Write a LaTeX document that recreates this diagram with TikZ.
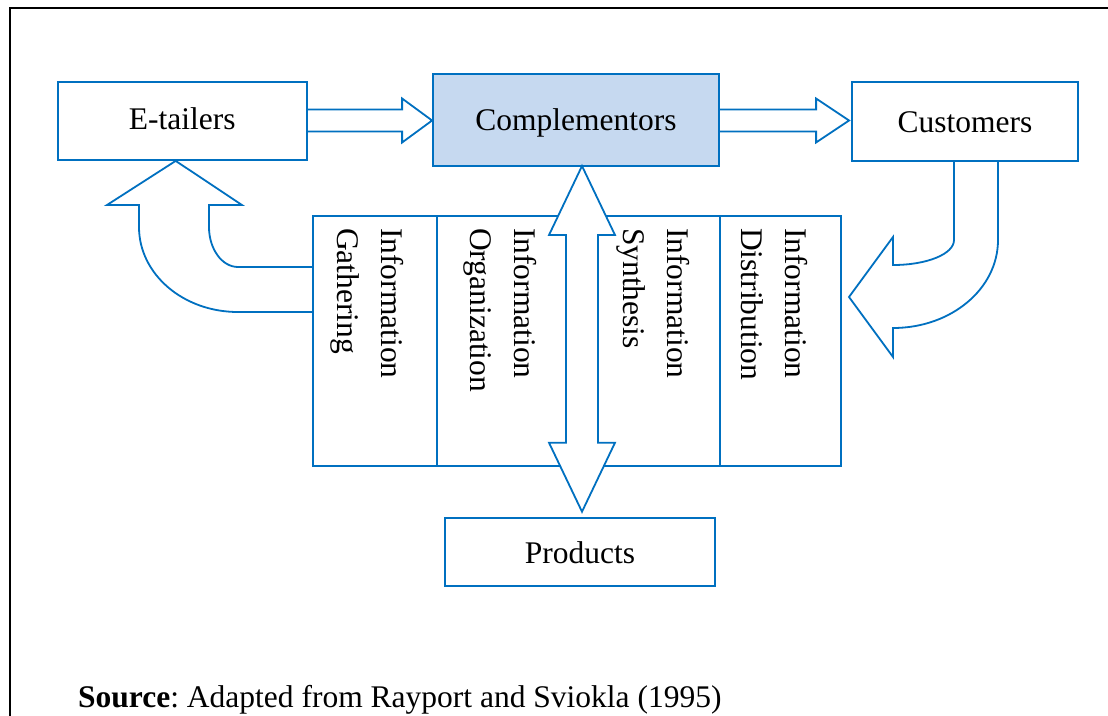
\documentclass[tikz,border=0pt]{standalone}
\usepackage{fontspec}
\setmainfont{Liberation Serif}
\usetikzlibrary{calc}
\frenchspacing
\definecolor{lineblue}{RGB}{0,112,192}
\definecolor{compfill}{RGB}{198,217,240}
\tikzset{
  txt/.style={font=\fontsize{31.5}{44}\selectfont},
  box/.style={draw=lineblue, line width=1.8pt, fill=white, inner sep=0pt},
  lbl/.style={txt, anchor=base, inner sep=0pt},
  blk/.style={draw=lineblue, line width=1.8pt, line join=miter},
  rot/.style={txt, rotate=-90, anchor=north west, align=left, inner sep=0pt},
}
\begin{document}
\begin{tikzpicture}[x=1pt, y=-1pt]
\useasboundingbox (0,0) rectangle (1108,715);
\fill[white] (0,0) rectangle (1108,715);
% frame
\draw[black, line width=2pt] (10,720) -- (10,8.3) -- (1115,8.3);

% boxes
\node[box, minimum width=249pt, minimum height=78pt] (etail) at (182.2,121) {};
\node[box, fill=compfill, minimum width=286pt, minimum height=92pt] (comp) at (576,120) {};
\node[box, minimum width=226pt, minimum height=79pt] (cust) at (965,121.7) {};
\node[box, minimum width=270pt, minimum height=68pt] (prod) at (580,551.8) {};
\node[box, minimum width=528pt, minimum height=250pt] (info) at (577,341) {};
\draw[blk] (437,216) -- (437,466);
\draw[blk] (720,216) -- (720,466);

% box labels
\node[lbl] (etailT) at ($(etail.center)+(0,8.5)$) {E-tailers};
\node[lbl] (compT) at ($(comp.center)+(0,10)$) {Complementors};
\node[lbl] (custT) at ($(cust.center)+(0,11)$) {Customers};
\node[lbl] (prodT) at ($(prod.center)+(0,12)$) {Products};

% rotated labels
\node[rot] (gath) at (404,228) {Information\\Gathering};
\node[rot] (orga) at (537,228) {Information\\Organization};
\node[rot] (synt) at (690,228) {Information\\Synthesis};
\node[rot] (dist) at (808,228) {Information\\Distribution};

% block arrow E-tailers -> Complementors
\coordinate (t1) at (comp.west |- 0,120.5);
\draw[blk] (etail.east |- 0,109.5) -- ($(t1)+(-30,-11)$) -- ($(t1)+(-30,-22)$) -- (t1)
  -- ($(t1)+(-30,22)$) -- ($(t1)+(-30,11)$) -- (etail.east |- 0,131.5);

% block arrow Complementors -> Customers
\coordinate (t2) at ($(cust.west |- 0,120.5)+(-2,0)$);
\draw[blk] (comp.east |- 0,109.5) -- ($(t2)+(-33,-11)$) -- ($(t2)+(-33,-22)$) -- (t2)
  -- ($(t2)+(-33,22)$) -- ($(t2)+(-33,11)$) -- (comp.east |- 0,131.5);

% double arrow Complementors <-> Products
\coordinate (ta) at (582,166);
\coordinate (tb) at (582,511.7);
\draw[blk, fill=white] (ta) -- ($(ta)+(33,69)$) -- ($(ta)+(16,69)$) -- ($(tb)+(16,-69)$)
  -- ($(tb)+(33,-69)$) -- (tb) -- ($(tb)+(-33,-69)$) -- ($(tb)+(-16,-69)$)
  -- ($(ta)+(-16,69)$) -- ($(ta)+(-33,69)$) -- cycle;

% curved arrow Information Gathering -> E-tailers
\coordinate (t3) at ($(etail.south)+(-6.5,0)$);
\draw[blk] (info.west |- 0,267) -- (238,267)
  .. controls (222,267) and (209,249) .. (209,227) -- (209,205) -- (242,205)
  -- (t3) -- (107,205) -- (139,205) -- (139,227)
  .. controls (139,274) and (183,312) .. (238,312) -- (info.west |- 0,312);

% curved arrow Customers -> Information Distribution
\coordinate (t4) at (849,297);
\draw[blk] (cust.south -| 954,0) -- (954,240)
  .. controls (954,254) and (927,265) .. (893,265) -- (893,237) -- (t4)
  -- (893,357) -- (893,328)
  .. controls (951,328) and (998,289) .. (998,240) -- (cust.south -| 998,0);

% source line
\node[txt, anchor=base west, inner sep=0pt] (src) at (78,707) {\textbf{Source}: Adapted from Rayport and Sviokla (1995)};
\end{tikzpicture}
\end{document}
